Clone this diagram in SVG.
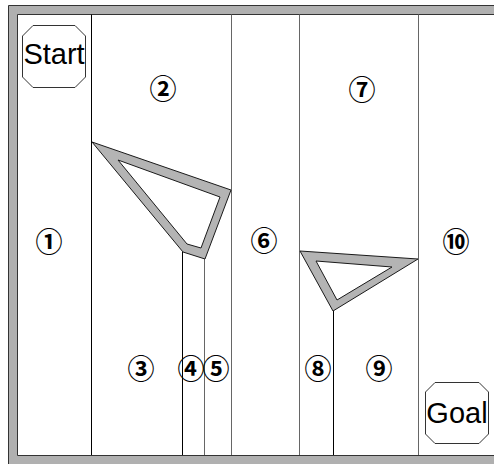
<svg xmlns="http://www.w3.org/2000/svg" width="494" height="464" viewBox="0 0 494 464">
<style>
.line{stroke:#000;stroke-width:1;fill:none}
.gl{stroke:#666;stroke-width:1;fill:none}
.obs{fill:#b4b4b4;fill-rule:evenodd;stroke:#1a1a1a;stroke-width:1;stroke-linejoin:miter}
.oct{fill:#fff;stroke:#333;stroke-width:1}
.big{font-family:"Liberation Sans",Arial,sans-serif;font-size:29px;fill:#000;text-anchor:middle}
.num{font-family:"Noto Sans CJK JP",sans-serif;font-size:27px;font-weight:bold;fill:#000;text-anchor:middle;dominant-baseline:central}
</style>
<rect x="0" y="0" width="494" height="464" fill="#fff"/>
<g id="frame">
<path d="M8.5,5.5 H520 V480 H8.5 Z M17.5,14.5 V455.5 H510 V14.5 Z" fill="#b0b0b0" fill-rule="evenodd" stroke="#333" stroke-width="1"/>
</g>
<g id="connectors">
<line class="line" x1="91.5" y1="14.5" x2="91.5" y2="455"/>
<line class="gl" x1="231.5" y1="14.5" x2="231.5" y2="455"/>
<line class="gl" x1="299.5" y1="14.5" x2="299.5" y2="455"/>
<line class="gl" x1="418.5" y1="14.5" x2="418.5" y2="455"/>
<line class="line" x1="182.5" y1="252" x2="182.5" y2="455"/>
<line class="gl" x1="204.5" y1="259" x2="204.5" y2="455"/>
<line class="line" x1="333.5" y1="311" x2="333.5" y2="455"/>
</g>
<g id="obstacle1">
<path class="obs" d="M92,142 L231,190 L205,259 L183,252 Z M118,160 L220,197 L201,248 L187,244 Z"/>
</g>
<g id="obstacle2">
<path class="obs" d="M300,251 L418,259 L333,311 Z M316,261 L392,267 L337,300 Z"/>
</g>
<g id="start">
<polygon class="oct" points="33,25.5 75,25.5 85.5,36 85.5,77 75,87.5 33,87.5 22.5,77 22.5,36"/>
<text class="big" x="54" y="64">Start</text>
</g>
<g id="goal">
<polygon class="oct" points="435,382.5 479,382.5 488.5,392 488.5,434 479,443.5 435,443.5 425.5,434 425.5,392"/>
<text class="big" x="457" y="423">Goal</text>
</g>
<g id="cell1"><text class="num" x="49" y="240">①</text></g>
<g id="cell2"><text class="num" x="163" y="87">②</text></g>
<g id="cell3"><text class="num" x="141" y="367">③</text></g>
<g id="cell4"><text class="num" x="191" y="367">④</text></g>
<g id="cell5"><text class="num" x="216" y="367">⑤</text></g>
<g id="cell6"><text class="num" x="264" y="239">⑥</text></g>
<g id="cell7"><text class="num" x="362" y="88">⑦</text></g>
<g id="cell8"><text class="num" x="318" y="367">⑧</text></g>
<g id="cell9"><text class="num" x="379" y="367">⑨</text></g>
<g id="cell10"><text class="num" x="456" y="240">⑩</text></g>
</svg>
